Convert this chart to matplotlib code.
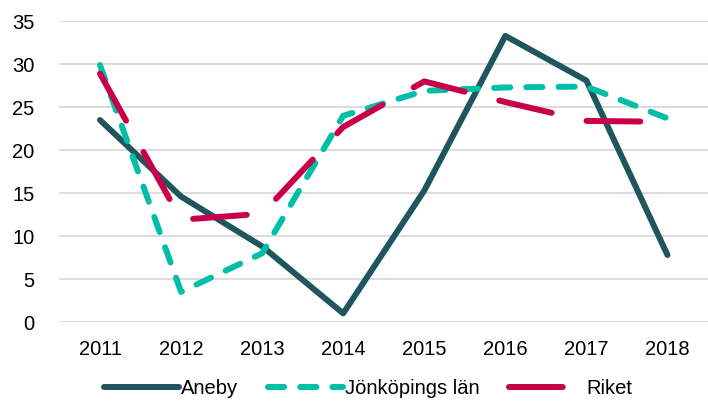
import numpy as np
import matplotlib
matplotlib.use('Agg')
import matplotlib.pyplot as plt

plt.rcParams['font.family'] = ['Liberation Sans', 'DejaVu Sans']

years = ['2011', '2012', '2013', '2014', '2015', '2016', '2017', '2018']
aneby = [23.5, 14.6, 8.8, 1.0, 15.3, 33.3, 28.1, 7.8]
jonkoping = [29.9, 3.5, 8.0, 24.0, 26.9, 27.3, 27.4, 23.7]
riket = [28.9, 11.9, 12.6, 22.7, 28.0, 25.6, 23.4, 23.3]

fig = plt.figure(figsize=(7.08, 4.01), dpi=100)
ax = fig.add_axes([0.084, 0.197, 0.916, 0.75])

x = np.arange(len(years))
lw = 4.3
ax.plot(x, aneby, color='#1F555C', lw=lw, solid_capstyle='round',
        solid_joinstyle='round', label='Aneby')
ax.plot(x, jonkoping, color='#00BFA6', lw=lw, dashes=(2.7, 2.7),
        dash_capstyle='round', label='Jönköpings län')
ax.plot(x, riket, color='#C8004A', lw=lw, dashes=(9.0, 6.0),
        dash_capstyle='round', label='Riket')

ax.set_xlim(-0.5, len(years) - 0.5)
ax.set_ylim(0, 35)
ax.set_yticks(range(0, 36, 5))
ax.set_xticks(x)
ax.set_xticklabels(years)
ax.yaxis.grid(True, color='#D9D9D9', lw=1.3)
ax.set_axisbelow(True)
for s in ax.spines.values():
    s.set_visible(False)
ax.tick_params(length=0, labelsize=14.5, colors='black')
ax.tick_params(axis='x', pad=13)
ax.tick_params(axis='y', pad=18)

fig.legend(loc='center', bbox_to_anchor=(0.52, 0.032), ncol=3,
           frameon=False, fontsize=14.5, handlelength=3.75, handletextpad=0.1,
           columnspacing=1.45, borderpad=0, borderaxespad=0)

plt.savefig('out.png', dpi=100)
